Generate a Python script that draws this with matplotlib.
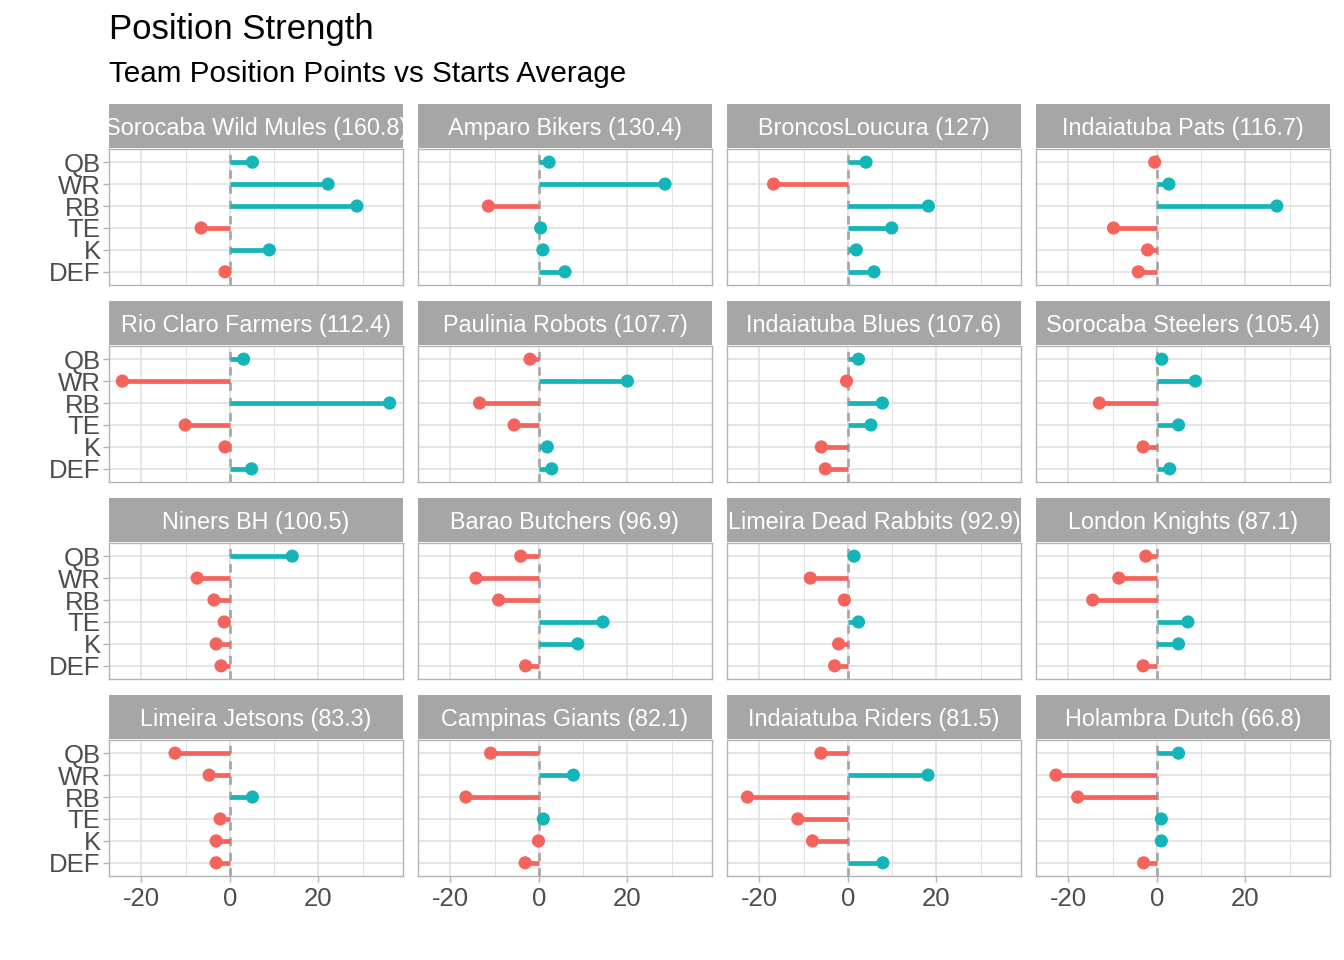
import numpy as np
import matplotlib.pyplot as plt
from matplotlib.ticker import MultipleLocator

plt.rcParams['font.family'] = ['Liberation Sans', 'DejaVu Sans']

teams = ['Sorocaba Wild Mules', 'Amparo Bikers', 'BroncosLoucura', 'Indaiatuba Pats',
         'Rio Claro Farmers', 'Paulinia Robots', 'Indaiatuba Blues', 'Sorocaba Steelers',
         'Niners BH', 'Barao Butchers', 'Limeira Dead Rabbits', 'London Knights',
         'Limeira Jetsons', 'Campinas Giants', 'Indaiatuba Riders', 'Holambra Dutch']
totals = ['160.8', '130.4', '127', '116.7', '112.4', '107.7', '107.6', '105.4',
          '100.5', '96.9', '92.9', '87.1', '83.3', '82.1', '81.5', '66.8']
positions = ['QB', 'WR', 'RB', 'TE', 'K', 'DEF']

qb = [5.1, 2.3, 4.1, -0.5, 3.1, -2.0, 2.4, 1.1, 14.1, -4.1, 1.4, -2.5, -12.4, -10.9, -6.1, 4.9]
wr = [22.2, 28.5, -16.8, 2.7, -24.3, 20.0, -0.3, 8.7, -7.4, -14.2, -8.5, -8.6, -4.7, 7.8, 18.1, -22.8]
rb = [28.7, -11.4, 18.2, 27.1, 36.1, -13.4, 7.8, -13.0, -3.6, -9.1, -0.8, -14.5, 5.1, -16.5, -22.7, -17.9]
te = [-6.5, 0.4, 9.9, -9.8, -10.1, -5.6, 5.2, 4.9, -1.3, 14.5, 2.4, 7.0, -2.2, 1.0, -11.3, 1.0]
kk = [8.9, 0.9, 1.9, -2.1, -1.1, 1.9, -6.0, -3.1, -3.1, 8.8, -2.1, 4.9, -3.1, -0.1, -8.0, 1.0]
dfn = [-1.1, 5.9, 5.9, -4.2, 4.9, 2.9, -5.1, 2.9, -2.0, -3.0, -3.0, -3.1, -3.1, -3.1, 7.9, -3.0]

vals = np.array([qb, wr, rb, te, kk, dfn]).T

W, H = 1344, 960
fig = plt.figure(figsize=(W / 100, H / 100), dpi=100)

red = '#F5635D'
teal = '#14B5B9'
grid_c = '#DEDEDE'
border_c = '#B3B3B3'
strip_c = '#A6A6A6'
text_c = '#4D4D4D'

lo, hi = vals.min(), vals.max()
pad = 0.05 * (hi - lo)

col_left = [109, 418, 727, 1036]
row_top = [104, 301, 498, 695]
pw, sh, ph = 294, 44, 136

for i, team in enumerate(teams):
    r, c = divmod(i, 4)
    l = col_left[c]
    st = row_top[r]
    pt = st + sh + 1
    ax = fig.add_axes([l / W, 1 - (pt + ph) / H, pw / W, ph / H])
    sax = fig.add_axes([l / W, 1 - (st + sh) / H, pw / W, sh / H])

    # strip
    sax.set_facecolor(strip_c)
    sax.set_xticks([])
    sax.set_yticks([])
    for s in sax.spines.values():
        s.set_visible(False)
    sax.text(0.5, 0.44, '{0} ({1})'.format(team, totals[i]), transform=sax.transAxes,
             ha='center', va='center', color='white', fontsize=16.8, clip_on=True)

    y = np.arange(len(positions))
    v = vals[i]
    colors = [teal if x > 0 else red for x in v]

    ax.axvline(0, color='#A8A8A8', lw=2.0, ls=(0, (3, 2.5)), zorder=2)
    ax.hlines(y, 0, v, colors=colors, lw=3.4, zorder=3)
    ax.scatter(v, y, s=90, c=colors, zorder=4, linewidths=0)

    ax.set_xlim(lo - pad, hi + pad)
    ax.set_ylim(len(positions) - 1 + 0.6, -0.6)
    ax.xaxis.set_major_locator(MultipleLocator(20))
    ax.xaxis.set_minor_locator(MultipleLocator(10))
    ax.set_yticks(y)
    ax.grid(which='major', color=grid_c, lw=1.1, zorder=0)
    ax.grid(which='minor', axis='x', color=grid_c, lw=0.6, zorder=0)
    ax.set_axisbelow(True)
    for s in ax.spines.values():
        s.set_color(border_c)
        s.set_linewidth(1.0)
    ax.tick_params(which='minor', length=0)
    ax.tick_params(which='major', color=border_c, width=1.0, length=4,
                   labelcolor=text_c, labelsize=18.5, pad=2)
    ax.tick_params(axis='x', pad=4)

    if c == 0:
        ax.set_yticklabels(positions)
    else:
        ax.set_yticklabels([])
        ax.tick_params(axis='y', length=0)
    if r == 3:
        ax.xaxis.set_major_formatter(plt.FuncFormatter(lambda x, p: '{0:g}'.format(x)))
    else:
        ax.set_xticklabels([])
        ax.tick_params(axis='x', length=0)

fig.text(109 / W, 1 - 29 / H, 'Position Strength', fontsize=25, va='center', ha='left')
fig.text(109 / W, 1 - 74 / H, 'Team Position Points vs Starts Average', fontsize=21.3,
         va='center', ha='left')

fig.savefig('out.png', dpi=100)
plt.close(fig)
